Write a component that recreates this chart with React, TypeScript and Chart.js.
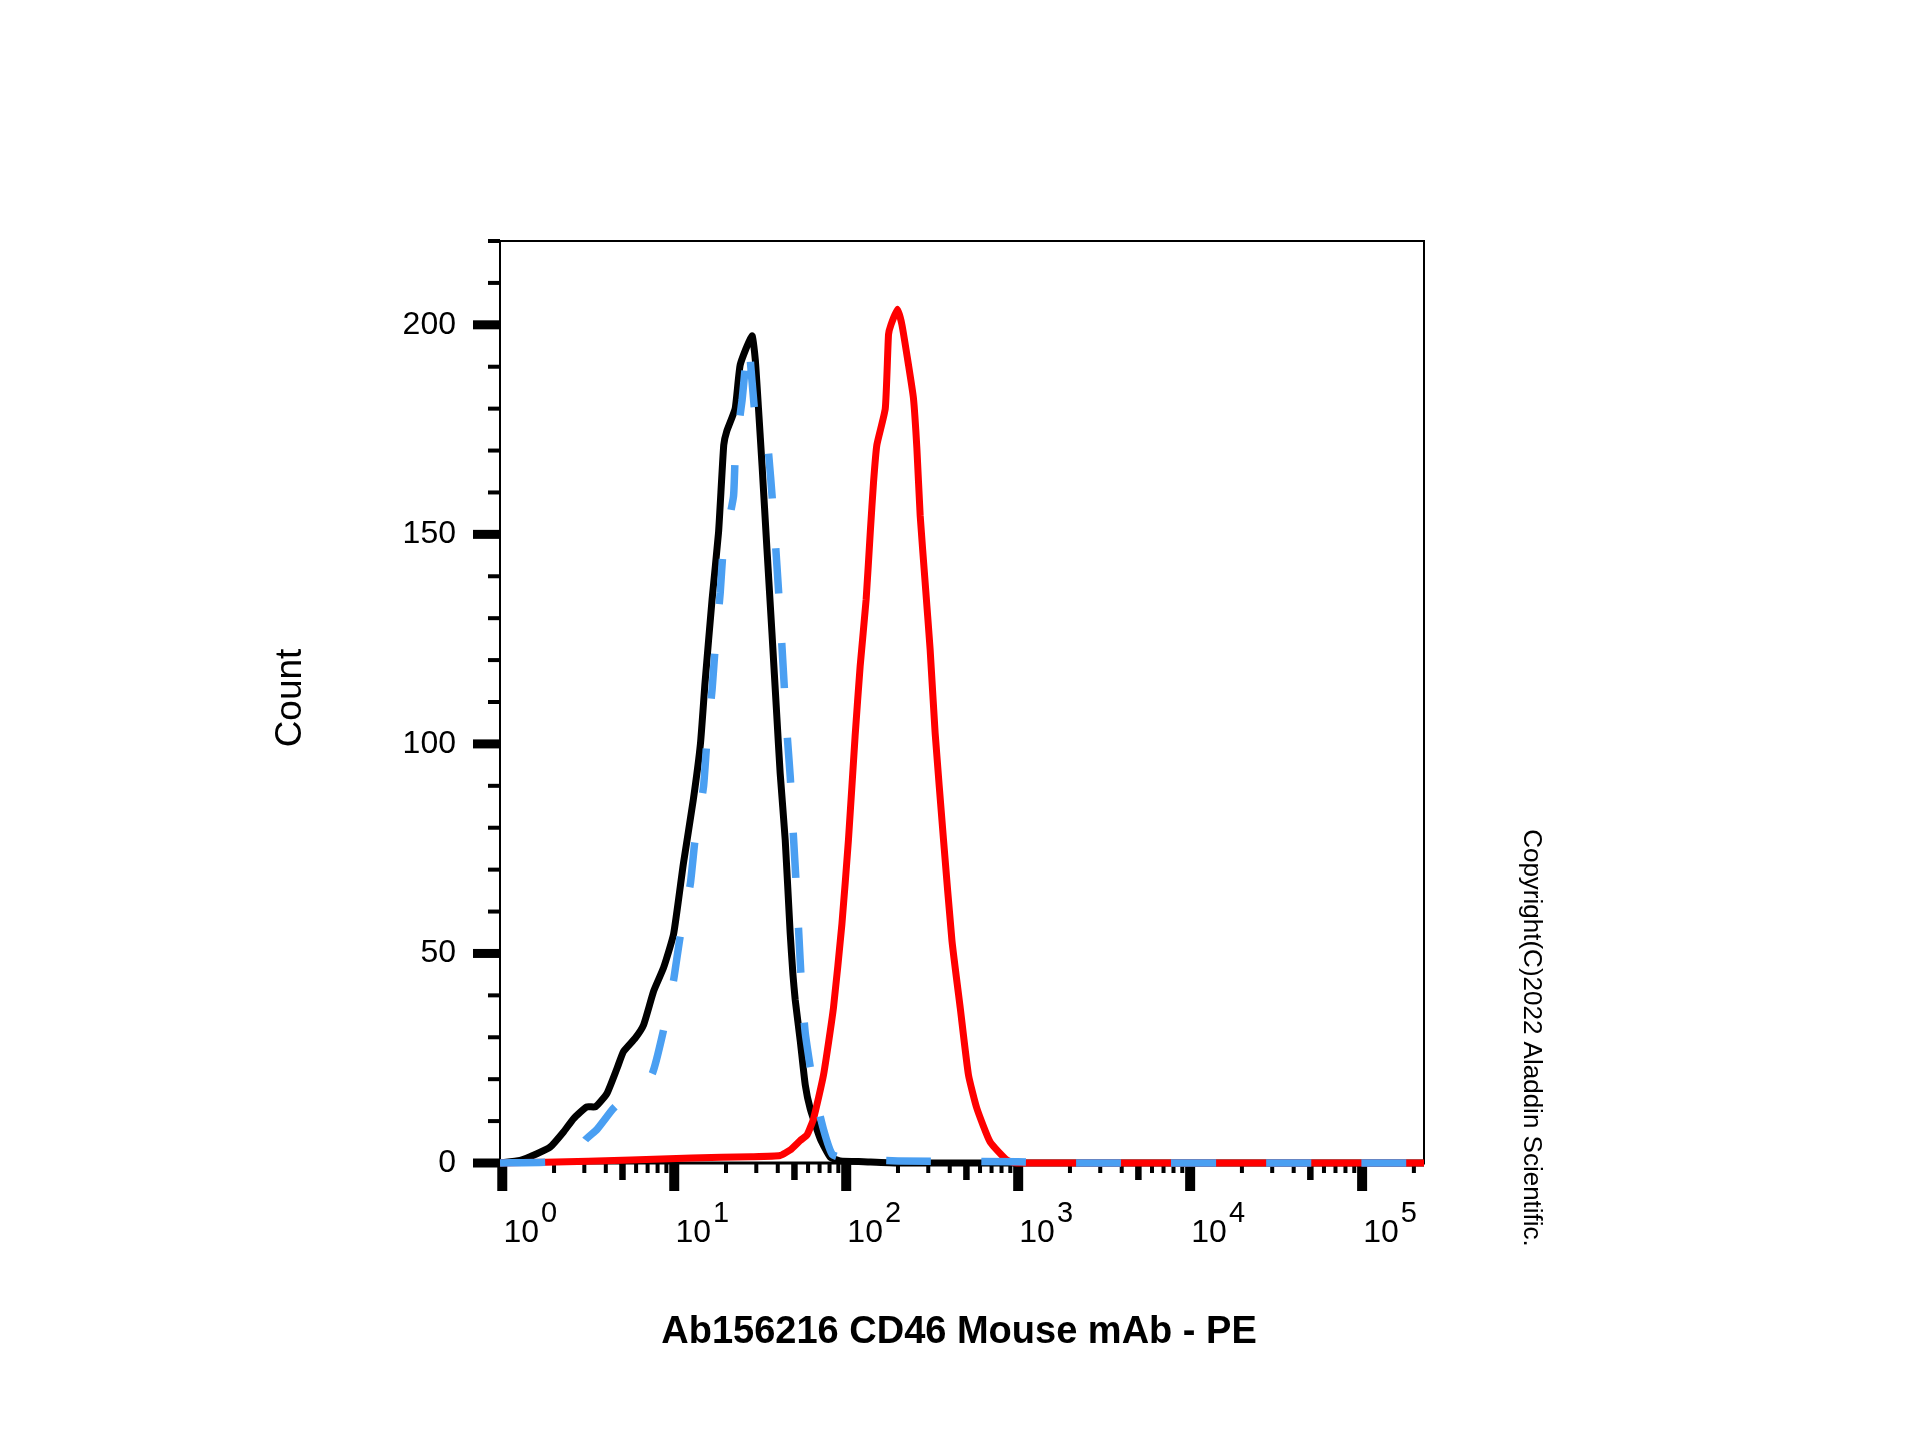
import { useEffect, useRef } from 'react';
import {
  Chart,
  LineController,
  LineElement,
  PointElement,
  LinearScale,
  LogarithmicScale,
} from 'chart.js';

Chart.register(LineController, LineElement, PointElement, LinearScale, LogarithmicScale);

const FONT = '"Liberation Sans", Arial, Helvetica, sans-serif';

// 측정값: 형광 강도(x, PE) / 세포 수(y)
const blankX = [0.97, 1.27, 1.59, 1.9, 2.27, 2.6, 3.1, 3.48, 4.06, 4.65, 5.07, 5.93, 6.64, 7.59, 8.67, 9.91, 11.3, 12.9, 14.2, 15.1, 16.6, 18.1, 19.4, 20.2, 22.6, 24.2, 28.3, 29.6, 30.9, 32.4, 34.6, 37.0, 39.5, 41.3, 44.2, 47.2, 49.0, 50.5, 54.1, 57.8, 61.7, 70.6, 80.7, 92.3, 126, 200, 229000];
const blankY = [0, 0.6, 2.2, 3.8, 7.4, 10.6, 13.4, 13.4, 16.6, 22.6, 26.6, 29.8, 33, 41, 46.6, 54.6, 71.4, 86.6, 100, 114.6, 134.5, 150.5, 171.3, 174.6, 180, 190.5, 197.4, 191.7, 180, 166.5, 146.5, 126.5, 106.5, 93, 77, 55, 45, 39, 29, 18.6, 13, 5.8, 1.4, 0.5, 0.3, 0, 0];

const isotypeX = [0.97, 2.0, 2.63, 3.04, 3.55, 4.42, 5.62, 7.41, 8.63, 9.89, 10.8, 12.4, 13.2, 14.8, 15.5, 16.6, 17.3, 18.5, 19.3, 22.1, 22.7, 24.8, 25.9, 27.0, 29.6, 31.6, 34.6, 37.8, 41.3, 45.2, 47.3, 49.0, 51.6, 52.8, 55.2, 57.8, 64.6, 73.8, 83.2, 100, 200, 1000, 2000, 229000];
const isotypeY = [0, 0.3, 1.5, 5.5, 8, 13, 17, 21.1, 31.4, 43.4, 53.8, 66.6, 77, 89.8, 101, 113, 123, 136, 146.5, 159, 170, 182, 190, 196, 178, 176, 173, 154.5, 130.5, 103, 92, 80, 64, 56, 41, 31, 18, 8, 2, 1, 0.5, 0.3, 0, 0];

const stainedX = [0.97, 1.78, 5.6, 12.6, 28, 41.3, 47.2, 54.1, 59.2, 64.6, 73.8, 84.3, 94.4, 103, 112.7, 120.5, 130.6, 138, 144.2, 150.7, 168.7, 176.2, 182, 198.6, 210.9, 230.1, 246, 257.6, 269.2, 287.7, 307.6, 328.9, 368.1, 412.1, 460.3, 514, 575.4, 687.1, 859, 977, 229000];
const stainedY = [0, 0.2, 0.7, 1.2, 1.5, 1.8, 3.1, 5.4, 6.7, 10.6, 21, 37, 57, 77, 102, 118.5, 134.5, 150.5, 162.5, 171.3, 180, 197.7, 200, 203.7, 200, 190.5, 182.5, 170.5, 154.5, 138.5, 122.5, 102.6, 77, 53, 37, 21, 13, 5, 0.7, 0, 0];

const X_MIN = 0.97;
const X_MAX = 229000;
const X_DECADES = [1, 10, 100, 1000, 10000, 100000];
const X_EXPONENTS = ['0', '1', '2', '3', '4', '5'];
const X_MINOR_STEPS = [2, 3, 4, 5, 6, 7, 8, 9];

const Y_MAX = 220;
const Y_MAJOR = [0, 50, 100, 150, 200];
const Y_MINOR = [10, 20, 30, 40, 60, 70, 80, 90, 110, 120, 130, 140, 160, 170, 180, 190, 210, 220];

const X_TITLE = 'Ab156216 CD46 Mouse mAb - PE';
const Y_TITLE = 'Count';
const COPYRIGHT = 'Copyright(C)2022 Aladdin Scientific.';

const toPoints = (xs: number[], ys: number[]) => xs.map((x, i) => ({ x, y: ys[i] }));

// 틱, 축 테두리, 지수 라벨, 제목
const flowAxes = {
  id: 'flowAxes',
  beforeDatasetsDraw(chart: any) {
    const { ctx, chartArea: a, scales } = chart;
    const xs = scales.x;
    const ys = scales.y;
    ctx.save();
    ctx.fillStyle = '#000';

    Y_MINOR.forEach((v) => {
      const py = ys.getPixelForValue(v);
      ctx.fillRect(a.left - 12, py - 2, 12, 4);
    });
    Y_MAJOR.forEach((v) => {
      const py = ys.getPixelForValue(v);
      ctx.fillRect(a.left - 27, py - 4.5, 27, 9);
    });

    X_DECADES.forEach((d) => {
      X_MINOR_STEPS.forEach((m) => {
        const v = d * m;
        if (v > X_MAX) return;
        const px = xs.getPixelForValue(v);
        if (m === 5) ctx.fillRect(px - 3.25, a.bottom, 6.5, 17);
        else ctx.fillRect(px - 2, a.bottom, 4, 10);
      });
      const px = xs.getPixelForValue(d);
      ctx.fillRect(px - 5, a.bottom, 10, 28);
    });

    ctx.strokeStyle = '#000';
    ctx.lineWidth = 2;
    ctx.strokeRect(a.left, a.top, a.right - a.left, a.bottom - a.top);
    ctx.lineWidth = 3;
    ctx.beginPath();
    ctx.moveTo(a.left, a.bottom);
    ctx.lineTo(a.right + 1, a.bottom);
    ctx.stroke();
    ctx.restore();
  },
  afterDraw(chart: any) {
    const { ctx, chartArea: a, scales } = chart;
    const xs = scales.x;
    ctx.save();
    ctx.fillStyle = '#000';
    ctx.textBaseline = 'alphabetic';
    ctx.textAlign = 'left';

    X_DECADES.forEach((d, i) => {
      const px = xs.getPixelForValue(d);
      ctx.font = `32px ${FONT}`;
      const baseW = ctx.measureText('10').width;
      ctx.font = `29px ${FONT}`;
      const supW = ctx.measureText(X_EXPONENTS[i]).width;
      const left = px + 28 - (baseW + 2 + supW) / 2;
      ctx.font = `32px ${FONT}`;
      ctx.fillText('10', left, a.bottom + 79);
      ctx.font = `29px ${FONT}`;
      ctx.fillText(X_EXPONENTS[i], left + baseW + 2, a.bottom + 59);
    });

    ctx.textAlign = 'center';
    ctx.font = `bold 38px ${FONT}`;
    ctx.fillText(X_TITLE, (a.left + a.right) / 2 - 3, a.bottom + 180);

    ctx.textBaseline = 'middle';
    ctx.font = `37px ${FONT}`;
    ctx.save();
    ctx.translate(a.left - 209, (a.top + a.bottom) / 2 - 4);
    ctx.rotate(-Math.PI / 2);
    ctx.fillText(Y_TITLE, 0, 0);
    ctx.restore();

    ctx.font = `26px ${FONT}`;
    ctx.save();
    ctx.translate(a.right + 107, a.bottom - 125);
    ctx.rotate(Math.PI / 2);
    ctx.fillText(COPYRIGHT, 0, 0);
    ctx.restore();

    ctx.restore();
  },
};

export default function App() {
  const canvasRef = useRef<HTMLCanvasElement>(null);
  const chartRef = useRef<Chart | null>(null);

  useEffect(() => {
    if (!canvasRef.current) return;
    if (chartRef.current) chartRef.current.destroy();

    chartRef.current = new Chart(canvasRef.current, {
      type: 'line',
      data: {
        datasets: [
          {
            label: 'Isotype control',
            data: toPoints(isotypeX, isotypeY),
            borderColor: '#4a9ff2',
            borderWidth: 7.5,
            borderDash: [45, 50],
            borderCapStyle: 'butt',
            pointRadius: 0,
            tension: 0.15,
            fill: false,
            order: 0,
            clip: { left: 0, top: 0, right: 0, bottom: 5 },
          },
          {
            label: 'Ab156216',
            data: toPoints(stainedX, stainedY),
            borderColor: '#ff0000',
            borderWidth: 7,
            pointRadius: 0,
            tension: 0.15,
            fill: false,
            order: 1,
            clip: { left: 0, top: 0, right: 0, bottom: 5 },
          },
          {
            label: 'Blank',
            data: toPoints(blankX, blankY),
            borderColor: '#000000',
            borderWidth: 7,
            pointRadius: 0,
            tension: 0.15,
            fill: false,
            order: 2,
            clip: { left: 0, top: 0, right: 0, bottom: 5 },
          },
        ],
      },
      options: {
        responsive: true,
        maintainAspectRatio: false,
        animation: false,
        layout: { padding: { left: 0, right: 496, top: 241, bottom: 0 } },
        plugins: {
          legend: { display: false },
          tooltip: { enabled: false },
        },
        scales: {
          x: {
            type: 'logarithmic',
            min: X_MIN,
            max: X_MAX,
            grid: { display: false, drawTicks: false },
            border: { display: false },
            ticks: { display: false },
            afterFit: (scale: any) => {
              scale.height = 277;
            },
          },
          y: {
            type: 'linear',
            min: 0,
            max: Y_MAX,
            grid: { display: false, drawTicks: false },
            border: { display: false },
            afterBuildTicks: (scale: any) => {
              scale.ticks = Y_MAJOR.map((value) => ({ value }));
            },
            afterFit: (scale: any) => {
              scale.width = 500;
            },
            ticks: {
              color: '#000',
              padding: 44,
              font: { family: FONT, size: 32 },
            },
          },
        },
      },
      plugins: [flowAxes],
    });

    return () => {
      chartRef.current?.destroy();
      chartRef.current = null;
    };
  }, []);

  return (
    <div style={{ position: 'absolute', left: 0, top: 0, width: 1920, height: 1440, background: '#fff' }}>
      <canvas ref={canvasRef} />
    </div>
  );
}
